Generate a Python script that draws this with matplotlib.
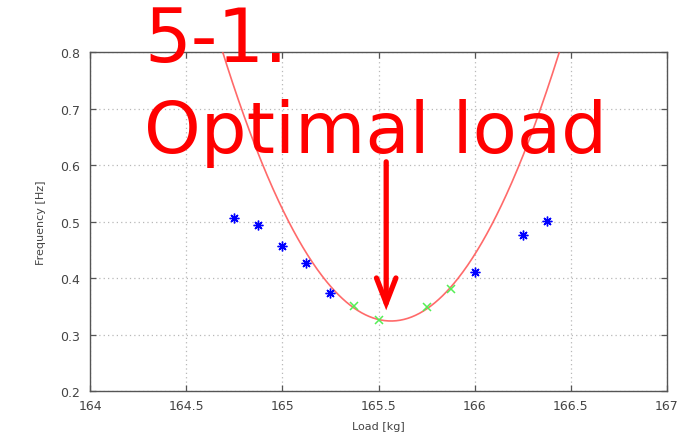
import numpy as np
import matplotlib
matplotlib.use("Agg")
import matplotlib.pyplot as plt

# ---- data ----
blue_load = [164.75, 164.875, 165.0, 165.125, 165.25, 166.0, 166.25, 166.375]
blue_freq = [0.506, 0.494, 0.456, 0.427, 0.374, 0.411, 0.476, 0.502]
green_load = [165.375, 165.5, 165.75, 165.875]
green_freq = [0.351, 0.326, 0.349, 0.381]
# quadratic fit: f = fit_min_freq + fit_curv * (load - fit_min_load)^2
fit_min_load = 165.565
fit_min_freq = 0.324
fit_curv = 0.622
arrow_load = 165.54
arrow_top = 0.606
arrow_tip = 0.343
xticks = [164, 164.5, 165, 165.5, 166, 166.5, 167]
xticklabels = ["164", "164.5", "165", "165.5", "166", "166.5", "167"]
yticks = [0.2, 0.3, 0.4, 0.5, 0.6, 0.7, 0.8]
yticklabels = ["0.2", "0.3", "0.4", "0.5", "0.6", "0.7", "0.8"]
title1 = "5-1."
title2 = "Optimal load"

W, H = 689, 439
fig = plt.figure(figsize=(W / 100, H / 100), dpi=100)
ax = fig.add_axes([90 / W, (H - 392) / H, 577 / W, 338.7 / H])

ax.set_xlim(164, 167)
ax.set_ylim(0.2, 0.8)

xs = np.linspace(164, 167, 600)
ys = fit_min_freq + fit_curv * (xs - fit_min_load) ** 2
ax.plot(xs, ys, color="#ff5050", lw=1.2, alpha=0.85, zorder=3)

ax.plot(blue_load, blue_freq, linestyle="none", marker=(8, 2, 0), ms=7,
        mew=1.0, color="#0000ff", zorder=4)
ax.plot(green_load, green_freq, linestyle="none", marker="x", ms=6,
        mew=1.1, color="#55ee55", zorder=4)

ax.annotate("", xy=(arrow_load, arrow_tip), xytext=(arrow_load, arrow_top),
            arrowprops=dict(arrowstyle="->,head_length=1.8,head_width=0.7",
                            color="#ff0000", lw=3.8, shrinkA=0, shrinkB=0,
                            capstyle="round", joinstyle="miter"),
            zorder=5)

ax.set_xticks(xticks)
ax.set_xticklabels(xticklabels)
ax.set_yticks(yticks)
ax.set_yticklabels(yticklabels)
ax.grid(True, color="#b8b8b8", linestyle=(0, (1, 2.5)), lw=0.9)
ax.tick_params(direction="in", top=True, right=True, length=4, width=0.9,
               color="#555555", labelcolor="#444444", labelsize=9)
ax.tick_params(axis="x", pad=6)
ax.tick_params(axis="y", pad=7)
for s in ax.spines.values():
    s.set_color("#555555")
    s.set_linewidth(1.0)

ax.set_xlabel("Load [kg]", fontsize=8, color="#444444", labelpad=6)
ax.set_ylabel("Frequency [Hz]", fontsize=8, color="#444444", labelpad=10)

fig.text(144 / W, 1 - 62 / H, title1, color="#ff0000", fontsize=53,
         family="DejaVu Sans", ha="left", va="baseline")
fig.text(144 / W, 1 - 153 / H, title2, color="#ff0000", fontsize=52,
         family="DejaVu Sans", ha="left", va="baseline")

fig.savefig("out.png", dpi=100)
